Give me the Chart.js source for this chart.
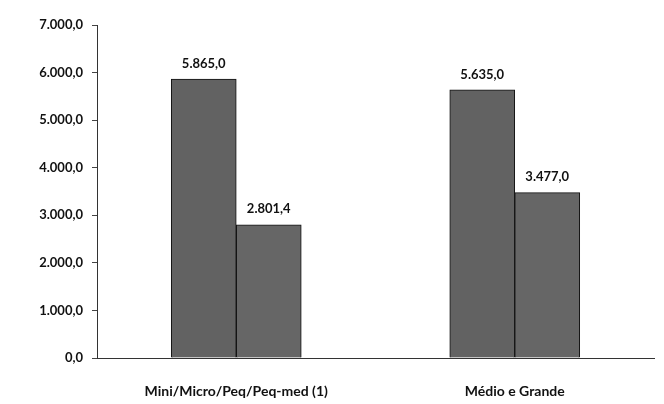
<!DOCTYPE html>
<html>
<head>
<meta charset="utf-8">
<script src="https://cdn.jsdelivr.net/npm/chart.js@4"></script>
<style>
  html, body { margin: 0; padding: 0; background: #fff; }
  #wrap { width: 664px; height: 404px; }
</style>
</head>
<body>
<div id="wrap"><canvas id="BarChart"></canvas></div>
<script>
// dados do grafico
const categorias = ['Mini/Micro/Peq/Peq-med (1)', 'Médio e Grande'];
const serieA = [5865.0, 5635.0];
const serieB = [2801.4, 3477.0];
const yTicks = [0, 1000, 2000, 3000, 4000, 5000, 6000, 7000];

// 1234.5 -> "1.234,5"
function fmt(v) {
    const parts = v.toFixed(1).split('.');
    const inteiro = parts[0].replace(/\B(?=(\d{3})+(?!\d))/g, '.');
    return inteiro + ',' + parts[1];
}

const rotulos = {
    id: 'rotulos',
    afterDatasetsDraw(chart) {
        const ctx = chart.ctx;
        ctx.save();
        ctx.font = 'bold 13px Lato';
        ctx.fillStyle = '#111';
        ctx.textAlign = 'center';
        ctx.textBaseline = 'bottom';
        chart.data.datasets.forEach((ds, i) => {
            chart.getDatasetMeta(i).data.forEach((bar, j) => {
                ctx.fillText(fmt(ds.data[j]), bar.x, bar.y - 9);
            });
        });
        ctx.restore();
    }
};

new Chart(document.getElementById('BarChart'), {
    type: 'bar',
    data: {
        labels: categorias,
        datasets: [
            { data: serieA, backgroundColor: '#626262', borderColor: '#111', borderWidth: 1 },
            { data: serieB, backgroundColor: '#666666', borderColor: '#111', borderWidth: 1 }
        ]
    },
    options: {
        responsive: true,
        maintainAspectRatio: false,
        animation: false,
        layout: { padding: { top: 25, right: 10, left: 0, bottom: 0 } },
        datasets: { bar: { barThickness: 65 } },
        plugins: {
            legend: { display: false },
            tooltip: { enabled: false }
        },
        scales: {
            x: {
                grid: { display: false },
                border: { display: true, color: '#333', dash: [3, 3] },
                ticks: { color: '#111', padding: 17, font: { family: 'Lato', size: 14, weight: 'bold' } },
                afterFit: s => { s.height = 46; }
            },
            y: {
                min: 0,
                max: 7000,
                afterBuildTicks: s => { s.ticks = yTicks.map(v => ({ value: v })); },
                afterFit: s => { s.width = 97; },
                grid: { drawOnChartArea: false, drawTicks: true, tickLength: 5, color: '#444' },
                border: { display: true, color: '#333', dash: [2, 3] },
                ticks: {
                    color: '#111',
                    padding: 9,
                    font: { family: 'Lato', size: 13, weight: 'bold' },
                    callback: v => fmt(v)
                }
            }
        }
    },
    plugins: [rotulos]
});
</script>
</body>
</html>
